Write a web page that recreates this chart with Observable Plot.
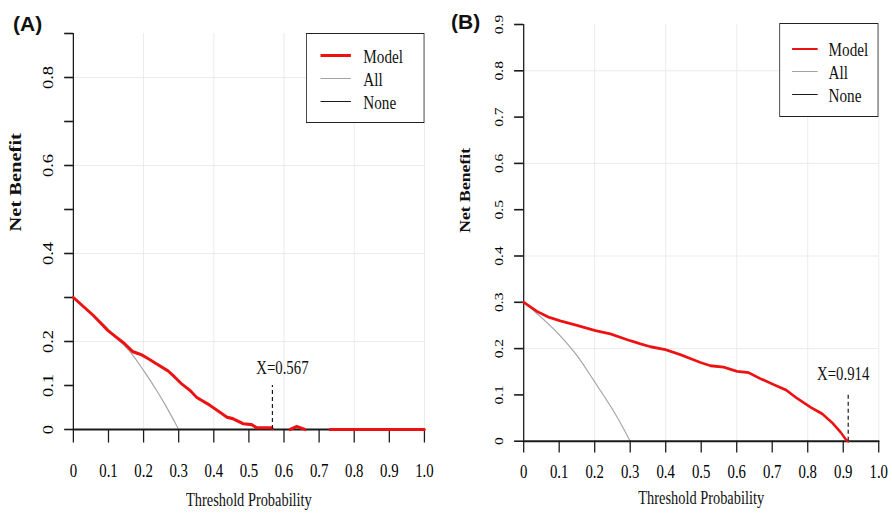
<!DOCTYPE html>
<html>
<head>
<meta charset="utf-8">
<script src="https://cdn.jsdelivr.net/npm/d3@7"></script>
<script src="https://cdn.jsdelivr.net/npm/@observablehq/plot@0.6"></script>
<style>
  html, body { margin: 0; padding: 0; background: #fff; }
  body { width: 892px; height: 517px; position: relative; overflow: hidden; }
  .panel { position: absolute; top: 0; height: 517px; transform-origin: 0 0; }
  .panel svg { position: absolute; left: 0; top: 0; overflow: visible; }
  .tag { position: absolute; font-family: "Liberation Sans", Arial, sans-serif; font-weight: bold; font-size: 21px; line-height: 21px; color: #111; }
  .legend { position: absolute; box-sizing: border-box; border: 1.5px solid #222; background: #fff;
            font-family: "Liberation Serif", "Times New Roman", serif; color: #111; }
  .legend .item { position: absolute; left: 0; right: 0; height: 0; }
  .legend .sw { position: absolute; height: 0; }
  .legend .lab { position: absolute; transform: translateY(-50%); line-height: 1; white-space: nowrap; }
</style>
</head>
<body>
<script>
// ---------- data ----------
const xTicks = [0, 0.1, 0.2, 0.3, 0.4, 0.5, 0.6, 0.7, 0.8, 0.9, 1.0];
const xTickLabels = ["0", "0.1", "0.2", "0.3", "0.4", "0.5", "0.6", "0.7", "0.8", "0.9", "1.0"];
const yTicks = [0, 0.1, 0.2, 0.3, 0.4, 0.5, 0.6, 0.7, 0.8, 0.9];
const yLabelValuesA = [0, 0.1, 0.2, 0.4, 0.6, 0.8];
const yLabelTextA = ["0", "0.1", "0.2", "0.4", "0.6", "0.8"];
const yLabelValuesB = [0, 0.1, 0.2, 0.3, 0.4, 0.5, 0.6, 0.7, 0.8, 0.9];
const yLabelTextB = ["0", "0.1", "0.2", "0.3", "0.4", "0.5", "0.6", "0.7", "0.8", "0.9"];
const gridX = [0.2, 0.4, 0.6, 0.8, 1.0];
const gridY = [0.2, 0.4, 0.6, 0.8];

const seriesNames = ["Model", "All", "None"];

// Panel A
const modelAx = [0, 0.057, 0.098, 0.122, 0.146, 0.169, 0.194, 0.213, 0.237, 0.270, 0.289, 0.308, 0.332, 0.351, 0.389, 0.418, 0.437, 0.456, 0.484, 0.508, 0.522, 0.551, 0.565, 0.567, 0.59, 0.617, 0.636, 0.660, 0.70, 0.731, 1.0];
const modelAy = [0.300, 0.259, 0.225, 0.210, 0.195, 0.177, 0.170, 0.161, 0.149, 0.133, 0.119, 0.104, 0.089, 0.073, 0.055, 0.039, 0.028, 0.024, 0.013, 0.011, 0.004, 0.004, 0.004, 0.002, null, 0.0, 0.007, 0.0, null, 0.0, 0.0];
const allAx = [0, 0.05, 0.1, 0.123, 0.162, 0.2, 0.237, 0.266, 0.296, 0.3];
const allAy = [0.300, 0.265, 0.228, 0.208, 0.176, 0.134, 0.089, 0.050, 0.006, 0.0];

// Panel B
const modelBx = [0, 0.038, 0.07, 0.103, 0.15, 0.202, 0.244, 0.3, 0.329, 0.357, 0.399, 0.441, 0.498, 0.526, 0.563, 0.601, 0.634, 0.667, 0.705, 0.738, 0.771, 0.809, 0.841, 0.87, 0.893, 0.909, 0.914];
const modelBy = [0.300, 0.280, 0.268, 0.260, 0.250, 0.239, 0.232, 0.217, 0.210, 0.204, 0.198, 0.187, 0.170, 0.163, 0.160, 0.151, 0.148, 0.135, 0.122, 0.111, 0.092, 0.073, 0.059, 0.039, 0.019, 0.002, 0.0];
const allBx = [0, 0.038, 0.1, 0.15, 0.2, 0.245, 0.275, 0.3];
const allBy = [0.300, 0.275, 0.230, 0.185, 0.128, 0.075, 0.036, 0.0];

const noneX = [0, 1];
const noneY = [0, 0];

const cutoffA = 0.567;
const cutoffB = 0.914;
const cutoffMarkTop = 0.1;

// ---------- helpers ----------
const zip = (xs, ys) => xs.map((x, i) => ({x, y: ys[i]}));
const SQ = 0.7993;          // horizontal squash of the original picture
const PW = 558;             // unsquashed panel width
const RED = "#ee1111", GREY = "#a3a3a3", BLACK = "#1a1a1a";
const serif = "'Liberation Serif', 'Times New Roman', serif";

function makePanel(cfg) {
  const marks = [
    Plot.ruleX(gridX, {y1: 0, y2: 0.9, stroke: "#e9e9e9", strokeWidth: 1}),
    Plot.ruleY(gridY, {x1: 0, x2: 1, stroke: "#e9e9e9", strokeWidth: 1}),
    // y axis
    Plot.ruleX([0], {y1: 0, y2: 0.9, stroke: BLACK, strokeWidth: 1.6}),
    Plot.ruleY(yTicks, {x1: 0, x2: 0, insetLeft: -cfg.yTickLen, stroke: BLACK, strokeWidth: 1.6}),
    Plot.text(cfg.yLabelValues, {x: 0, y: d => d, text: (d, i) => cfg.yLabelText[i], rotate: -90,
      dx: -31, fontSize: cfg.yFont, fill: "#000"}),
    // x axis
    Plot.ruleX(xTicks, {y1: 0, y2: 0, insetBottom: -cfg.xTickLen, stroke: BLACK, strokeWidth: 1.6}),
    Plot.text(xTicks, {x: d => d, y: 0, text: (d, i) => xTickLabels[i], dy: cfg.xLabelDy,
      fontSize: 18.5, fill: "#000"}),
    // titles
    Plot.text(["Net Benefit"], {frameAnchor: "left", rotate: -90, dx: -72.5, fontSize: cfg.titleFont,
      fontWeight: "bold", fill: "#111"}),
    Plot.text(["Threshold Probability"], {frameAnchor: "bottom", dy: cfg.xTitleDy, fontSize: 18, fill: "#111"}),
    // curves
    Plot.line(zip(cfg.allX, cfg.allY), {x: "x", y: "y", stroke: GREY, strokeWidth: 1.3, curve: "monotone-x"}),
    Plot.line(zip(noneX, noneY), {x: "x", y: "y", stroke: BLACK, strokeWidth: 2}),
    Plot.line(zip(cfg.modelX, cfg.modelY), {x: "x", y: "y", stroke: RED, strokeWidth: cfg.redWidth}),
    // cutoff marker
    Plot.ruleX([cfg.cutoff], {y1: 0, y2: cutoffMarkTop, stroke: BLACK, strokeWidth: 1.5, strokeDasharray: "4,3"}),
    Plot.text([cfg.cutoff], {x: d => d, y: cutoffMarkTop, text: d => "X=" + d, dx: cfg.annDx, dy: cfg.annDy,
      fontSize: 18.5, fill: "#111"})
  ];
  return Plot.plot({
    width: PW, height: 517,
    marginLeft: cfg.ml, marginRight: cfg.mr, marginTop: cfg.mt, marginBottom: cfg.mb,
    x: {domain: [0, 1], axis: null},
    y: {domain: [0, 0.9], axis: null},
    style: {fontFamily: serif, fontSize: "17px", background: "transparent", overflow: "visible"},
    marks
  });
}

function makeLegend(cfg) {
  const lg = document.createElement("div");
  lg.className = "legend";
  Object.assign(lg.style, {left: cfg.left + "px", top: cfg.top + "px", width: cfg.width + "px", height: cfg.height + "px"});
  const colors = [RED, GREY, BLACK];
  const widths = [cfg.redWidth, 1.5, 1.8];
  seriesNames.forEach((name, i) => {
    const it = document.createElement("div");
    it.className = "item";
    it.style.top = (cfg.firstY + i * cfg.step) + "px";
    const sw = document.createElement("div");
    sw.className = "sw";
    Object.assign(sw.style, {left: cfg.swLeft + "px", width: cfg.swWidth + "px",
      borderTop: widths[i] + "px solid " + colors[i], top: (-widths[i] / 2) + "px"});
    const lab = document.createElement("div");
    lab.className = "lab";
    lab.textContent = name;
    Object.assign(lab.style, {left: cfg.textLeft + "px", fontSize: cfg.font + "px"});
    it.appendChild(sw); it.appendChild(lab);
    lg.appendChild(it);
  });
  return lg;
}

function addPanel(left, plotCfg, legendCfg) {
  const div = document.createElement("div");
  div.className = "panel";
  Object.assign(div.style, {left: left + "px", width: PW + "px", transform: `scaleX(${SQ})`});
  div.appendChild(makePanel(plotCfg));
  div.appendChild(makeLegend(legendCfg));
  document.body.appendChild(div);
}

addPanel(0, {
  ml: 91.3, mr: 27.5, mt: 33, mb: 88,
  yTickLen: 11, xTickLen: 13.5, yFont: 18.5, titleFont: 20.5,
  yLabelValues: yLabelValuesA, yLabelText: yLabelTextA,
  xLabelDy: 42, xTitleDy: 76,
  modelX: modelAx, modelY: modelAy, allX: allAx, allY: allAy, redWidth: 3.2,
  cutoff: cutoffA, annDx: 12.5, annDy: -17
}, {
  left: 382.5, top: 33, width: 148.5, height: 90,
  firstY: 22, step: 23, swLeft: 17, swWidth: 38, textLeft: 71, font: 19, redWidth: 3.2
});

addPanel(446, {
  ml: 96.7, mr: 17.1, mt: 24, mb: 76.3,
  yTickLen: 11.5, xTickLen: 11.7, yFont: 15.5, titleFont: 17.7,
  yLabelValues: yLabelValuesB, yLabelText: yLabelTextB,
  xLabelDy: 31, xTitleDy: 63,
  modelX: modelBx, modelY: modelBy, allX: allBx, allY: allBy, redWidth: 2.8,
  cutoff: cutoffB, annDx: -6.3, annDy: -21
}, {
  left: 416.6, top: 23, width: 124.3, height: 94,
  firstY: 25, step: 23, swLeft: 15, swWidth: 32, textLeft: 61, font: 19, redWidth: 2.2
});

for (const [t, l, tp] of [["(A)", 13, 12.5], ["(B)", 451, 10.5]]) {
  const d = document.createElement("div");
  d.className = "tag";
  d.textContent = t;
  Object.assign(d.style, {left: l + "px", top: tp + "px"});
  document.body.appendChild(d);
}
</script>
</body>
</html>
